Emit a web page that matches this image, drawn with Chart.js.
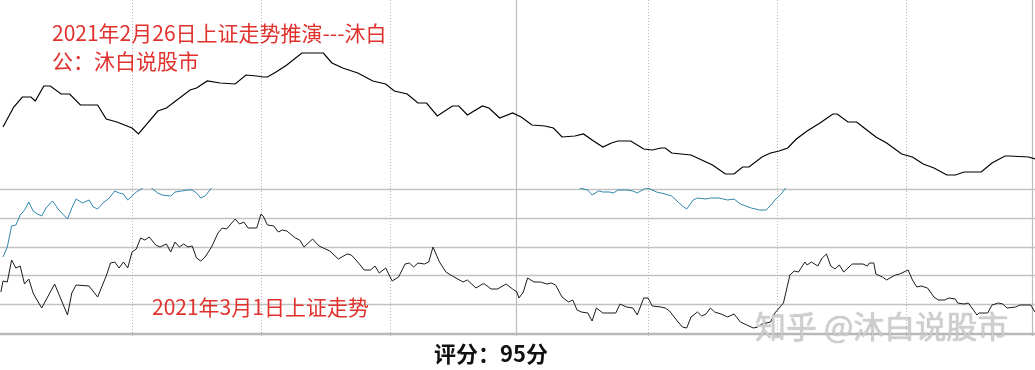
<!DOCTYPE html>
<html><head><meta charset="utf-8">
<script src="https://cdn.jsdelivr.net/npm/chart.js@4.4.1/dist/chart.umd.min.js"></script>
<style>
html,body{margin:0;padding:0;background:#fff;width:1035px;height:370px;overflow:hidden;}
#wrap{position:relative;width:1035px;height:370px;background:#fff;}
canvas{position:absolute;left:0;}
#cTop{top:0;}
#cBot{top:188px;}
.lbl{position:absolute;font-family:"Noto Sans CJK SC","Microsoft YaHei",sans-serif;white-space:nowrap;line-height:1;}
.red{color:#e0312d;font-size:21px;}
#t1{left:52px;top:22px;}
#t2{left:52px;top:50px;}
#t3{left:152px;top:296px;}
#score{left:0;width:982px;text-align:center;top:341px;font-size:22px;font-weight:bold;color:#111;}
#wm{left:755px;top:309px;font-size:31px;color:rgba(212,212,212,0.9);text-shadow:0 0 1px rgba(90,90,90,0.6);}
</style></head>
<body><div id="wrap">
<canvas id="cTop" width="1035" height="188"></canvas>
<canvas id="cBot" width="1035" height="148"></canvas>
<div class="lbl red" id="t1">2021年2月26日上证走势推演---沐白</div>
<div class="lbl red" id="t2">公：沐白说股市</div>
<div class="lbl red" id="t3">2021年3月1日上证走势</div>
<div class="lbl" id="wm">知乎 @沐白说股市</div>
<div class="lbl" id="score">评分：95分</div>
</div>
<script>
// ---- Data (minutes since open, relative values) ----
// Top panel: projected trend for 2021-02-26
const topMin = [0,2.5,4.5,6.5,7.5,9.5,11,13.5,15.5,18,22,24,26.5,30,31.5,36,38,43.5,45,47.5,50.5,54,56.5,59,60.5,61.5,63.5,66,69.5,74.5,76.5,79,82.5,86,89,91,94,96.5,98.5,101,104.5,106,108,111.5,113,115.5,118.5,120.5,123,126,128,130,133,135,137,139.5,141.5,143,146,149,151,153,154,155.5,160,163,165,168,170,172,173.5,176.5,178.5,180.5,182.5,184.5,187,190,193,194,196.5,198.5,200,203,205.5,209,211.5,214,216.5,219.5,221.5,223.5,227.5,230,233,234,238.5,240];
const topVal = [61,81,91,91,87,102,102,94,94,83,83,69,66,60,54,77,80,98,100,107,105,104,113,112,111,111,116,123,135,135,125,120,115,107,104,97,94,85,85,72,82,82,73,82,80,70,75,71,63,62,60,51,52,54,48,41,45,47,47,39,38,40,40,35,33,27,23,14,14,21,21,31,35,37,40,49,57,65,74,74,66,66,61,51,45,34,31,24,20,13,13,16,16,25,32,32,31,29];

// Bottom panel: actual trend for 2021-03-01 (black) and second line (blue)
const botMin = [-0.5,0,1,2,3,4,5,6,7,7.5,9,12,15,16,17,20,22,24,25,26,27,28,29,30,31,32,33,34,35.5,36.5,38,39,40,41,42,43,44,45,46,47,48.5,50,51,52,54,55,56,57,59,60,60.5,61.5,63,64,65,66,68,69,70,72,73.5,76,78,80,81,82.5,84,85.5,86.5,87.5,89,90.5,92,93.5,94.5,95.5,96.5,98,99,100,101.5,103,104.5,107,108,110,111.5,112,113.5,115,117,118.5,119.5,120,121,122,123.5,125,126.5,127.5,128.5,130,131.5,132.5,133.5,134.5,136,137,138,139.5,140.5,142.5,143.5,145,146.5,147.5,149,150,151,153,154,155,157,158,159,160,161.5,162.5,163.5,164.5,165.5,167,168.5,170,171.5,173,174.5,175.5,176.5,178.5,179.5,181.5,183,184,185,186.5,187,188,189.5,190.5,191.5,192.5,193.5,194.5,195.5,197.5,200,201,201.5,202.5,203,204.5,205.5,207.5,208.5,210.5,211.5,212.5,213.5,215,216.5,217.5,219,220,221.5,222,223.5,224.5,226.5,227,229,230,231.5,232.5,233.5,235.5,236.5,239,240];
const botVal = [41,52,51,73,65,67,49,54,40,36,25,49,18,40,48,47,36,57,70,71,65,71,65,81,84,95,93,96,88,86,89,81,91,86,89,86,87,75,72,76,86,100,105,104,114,109,111,105,105,119,117,108,107,101,103,102,95,93,86,94,87,82,74,79,78,71,63,63,67,60,65,52,56,69,70,66,70,69,71,86,71,61,57,51,53,45,49,49,44,44,49,44,41,35,41,55,51,51,49,50,48,36,31,33,23,21,20,12,25,20,20,20,29,26,25,18,35,35,27,26,25,22,11,6,5,16,21,17,19,25,21,19,16,19,11,8,5,6,9,11,20,30,58,62,61,71,68,71,67,75,79,67,64,68,61,69,69,67,70,70,59,56,53,58,59,63,53,46,47,45,36,33,33,35,34,30,29,30,18,20,20,28,30,29,25,26,28,28,21];

const blueMin = [0,1,2,3,4,5,6,7,8,9,10,11.5,13,15,16,17,18.5,20,21,22,23.5,24.5,26,27,28,29,30,31,32.5,33.5,34.5,36,37,39,40,41.5,43,44,45,46,47,48.5,49.5,50,133,134,136,137,138.5,139.5,141,142,143,145,146.5,147.5,149.5,150.5,152,154,155.5,157,158,159,160.5,161.5,163.5,164.5,166.5,168.5,170,171.5,174,176,177.5,179,179.5,180,181,182,183,184];
const blueVal = [76,86,107,108,118,123,131,122,119,117,125,132,123,114,125,134,130,133,126,124,131,134,142,140,139,133,137,141,145,149,145,140,138,137,141,142,143,143,140,135,137,145,152,null,150,145,143,138,142,141,141,140,143,143,142,140,145,144,141,139,137,131,127,124,133,135,134,135,135,133,134,129,125,123,123,130,133,135,139,145,152,null];

// Grid definitions (tick values)
const xMin = -0.7, xMax = 240;
const dottedMinutes = [30,60,90,150,180,210];
const solidMinutes = [119.3, 239.2];
const botGridVals = [144,115,86,58,29];
const botBorderVal = -1;

function pts(xs, ys){ return xs.map((x,i)=>({x:x, y:ys[i]})); }

const gridPlugin = {
  id:'panelGrid',
  beforeDatasetsDraw(chart, args, opts){
    const {ctx, chartArea:a, scales:{x,y}} = chart;
    ctx.save();
    (opts.h||[]).forEach(v=>{
      const py = Math.round(y.getPixelForValue(v))+0.5;
      ctx.strokeStyle='#c2c2c2'; ctx.lineWidth=1.4; ctx.setLineDash([]);
      ctx.beginPath(); ctx.moveTo(a.left,py); ctx.lineTo(a.right,py); ctx.stroke();
    });
    if (opts.border!==undefined){
      const py = y.getPixelForValue(opts.border);
      ctx.strokeStyle='#b8b8b8'; ctx.lineWidth=2.5; ctx.setLineDash([]);
      ctx.beginPath(); ctx.moveTo(a.left,py); ctx.lineTo(a.right,py); ctx.stroke();
    }
    dottedMinutes.forEach(m=>{
      const px = Math.round(x.getPixelForValue(m))+0.5;
      ctx.strokeStyle='#b5b5b5'; ctx.lineWidth=1; ctx.setLineDash([1,2]);
      ctx.beginPath(); ctx.moveTo(px,a.top); ctx.lineTo(px,a.bottom); ctx.stroke();
    });
    solidMinutes.forEach(m=>{
      const px = Math.round(x.getPixelForValue(m))+0.5;
      ctx.strokeStyle='#bcbcbc'; ctx.lineWidth=1.2; ctx.setLineDash([]);
      ctx.beginPath(); ctx.moveTo(px,a.top); ctx.lineTo(px,a.bottom); ctx.stroke();
    });
    ctx.restore();
  }
};

function baseOpts(yMin, yMax, gridOpts){
  return {
    responsive:false, animation:false, devicePixelRatio:1,
    layout:{padding:0},
    plugins:{legend:{display:false}, tooltip:{enabled:false}, panelGrid:gridOpts},
    elements:{point:{radius:0}, line:{tension:0, borderWidth:1.1}},
    scales:{
      x:{type:'linear', min:xMin, max:xMax, display:false},
      y:{type:'linear', min:yMin, max:yMax, display:false}
    }
  };
}

new Chart(document.getElementById('cTop'), {
  type:'line',
  data:{datasets:[{data:pts(topMin, topVal), borderColor:'#000', borderWidth:1.2}]},
  options: baseOpts(0, 188, {h:[]}),
  plugins:[gridPlugin]
});

new Chart(document.getElementById('cBot'), {
  type:'line',
  data:{datasets:[
    {data:pts(blueMin, blueVal), borderColor:'#2f86ad', borderWidth:1, spanGaps:false},
    {data:pts(botMin, botVal), borderColor:'#1a1a1a', borderWidth:1}
  ]},
  options: baseOpts(-3, 145, {h:botGridVals, border:botBorderVal}),
  plugins:[gridPlugin]
});
</script>
</body></html>
